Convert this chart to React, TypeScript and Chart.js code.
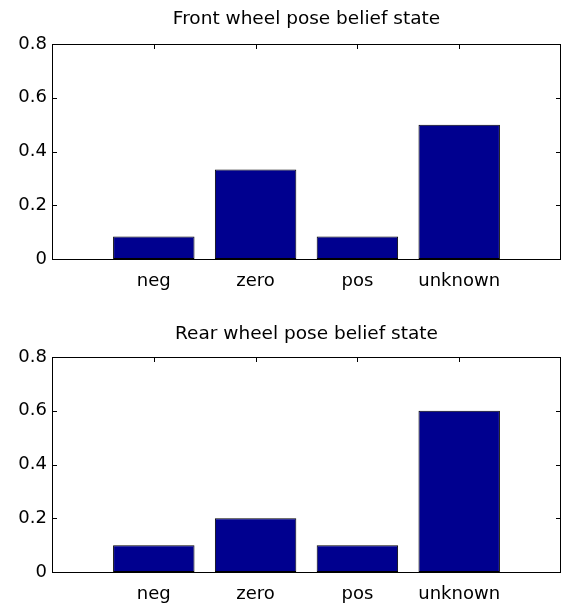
import React, { useEffect, useRef } from 'react';
import { Chart, registerables } from 'chart.js';

Chart.register(...registerables);

// ---- data ----
const categories = ['neg', 'zero', 'pos', 'unknown'];
const frontValues = [0.0833, 0.3333, 0.0833, 0.5];
const rearValues = [0.1, 0.2, 0.1, 0.6];
const yTickValues = [0, 0.2, 0.4, 0.6, 0.8];
const frontTitle = 'Front wheel pose belief state';
const rearTitle = 'Rear wheel pose belief state';

const FONT_FAMILY = "'DejaVu Sans', sans-serif";
const BAR_COLOR = '#00008f';

const matlabAxes = {
  id: 'matlabAxes',
  beforeDatasetsDraw(chart: any) {
    const { ctx, chartArea: a, scales } = chart;
    const x = scales.x;
    const y = scales.y;
    const L = 5;
    ctx.save();
    ctx.strokeStyle = '#000';
    ctx.lineWidth = 1;
    ctx.beginPath();
    x.ticks.forEach((t: any) => {
      const px = Math.round(x.getPixelForValue(t.value)) + 0.5;
      ctx.moveTo(px, a.top);
      ctx.lineTo(px, a.top + L);
      ctx.moveTo(px, a.bottom);
      ctx.lineTo(px, a.bottom - L);
    });
    y.ticks.forEach((t: any) => {
      const py = Math.round(y.getPixelForValue(t.value)) + 0.5;
      ctx.moveTo(a.left, py);
      ctx.lineTo(a.left + L, py);
      ctx.moveTo(a.right, py);
      ctx.lineTo(a.right - L, py);
    });
    ctx.stroke();
    ctx.restore();
  },
  afterDatasetsDraw(chart: any) {
    const { ctx, chartArea: a } = chart;
    ctx.save();
    ctx.strokeStyle = '#000';
    ctx.lineWidth = 1;
    const l = Math.round(a.left) + 0.5;
    const t = Math.round(a.top) + 0.5;
    const r = Math.round(a.right) - 0.5;
    const b = Math.round(a.bottom) + 0.5;
    ctx.strokeRect(l, t, r - l, b - t);
    ctx.restore();
  },
};

function makeConfig(
  values: number[],
  title: string,
  titlePadTop: number,
  titlePadBottom: number,
  xAxisHeight: number
): any {
  return {
    type: 'bar',
    data: {
      datasets: [
        {
          data: categories.map((_, i) => ({ x: i + 1, y: values[i] })),
          backgroundColor: BAR_COLOR,
          borderColor: '#000',
          borderWidth: 1,
          borderSkipped: false,
          categoryPercentage: 1,
          barPercentage: 0.8,
        },
      ],
    },
    options: {
      responsive: false,
      animation: false,
      devicePixelRatio: 1,
      events: [],
      layout: { padding: { left: 0, right: 2, top: 0, bottom: 0 } },
      plugins: {
        legend: { display: false },
        tooltip: { enabled: false },
        title: {
          display: true,
          fullSize: false,
          text: title,
          color: '#000',
          font: { family: FONT_FAMILY, size: 18.5, weight: 'normal', lineHeight: 1.2 },
          padding: { top: titlePadTop, bottom: titlePadBottom },
        },
      },
      scales: {
        x: {
          type: 'linear',
          min: 0,
          max: 5,
          offset: false,
          grid: { display: false, drawTicks: false },
          border: { display: false },
          afterBuildTicks: (s: any) => {
            s.ticks = categories.map((_, i) => ({ value: i + 1 }));
          },
          ticks: {
            autoSkip: false,
            maxRotation: 0,
            minRotation: 0,
            padding: 12,
            color: '#000',
            font: { family: FONT_FAMILY, size: 18 },
            callback: (v: any) => categories[Math.round(v) - 1] ?? '',
          },
          afterFit: (s: any) => {
            s.height = xAxisHeight;
          },
        },
        y: {
          type: 'linear',
          min: 0,
          max: 0.8,
          grid: { display: false, drawTicks: false },
          border: { display: false },
          afterBuildTicks: (s: any) => {
            s.ticks = yTickValues.map((v) => ({ value: v }));
          },
          ticks: {
            padding: 5,
            color: '#000',
            font: { family: FONT_FAMILY, size: 18 },
            callback: (v: any) => (v === 0 ? '0' : Number(v).toFixed(1)),
          },
          afterFit: (s: any) => {
            s.width = 52;
          },
        },
      },
    },
    plugins: [matlabAxes],
  };
}

function Panel(props: {
  values: number[];
  title: string;
  top: number;
  height: number;
  padTop: number;
  padBottom: number;
  xAxisHeight: number;
}) {
  const ref = useRef<HTMLCanvasElement | null>(null);
  useEffect(() => {
    if (!ref.current) return;
    const chart = new Chart(
      ref.current,
      makeConfig(props.values, props.title, props.padTop, props.padBottom, props.xAxisHeight)
    );
    return () => chart.destroy();
  }, []);
  return (
    <canvas
      ref={ref}
      width={563}
      height={props.height}
      style={{
        position: 'absolute',
        left: 0,
        top: props.top,
        width: 563,
        height: props.height,
        display: 'block',
      }}
    />
  );
}

export default function App() {
  return (
    <div
      style={{
        position: 'absolute',
        left: 0,
        top: 0,
        width: 563,
        height: 606,
        background: '#fff',
        overflow: 'hidden',
      }}
    >
      <Panel values={frontValues} title={frontTitle} top={0} height={300} padTop={8.4} padBottom={13.4} xAxisHeight={41} />
      <Panel values={rearValues} title={rearTitle} top={300} height={306} padTop={22.9} padBottom={11.9} xAxisHeight={34} />
    </div>
  );
}
